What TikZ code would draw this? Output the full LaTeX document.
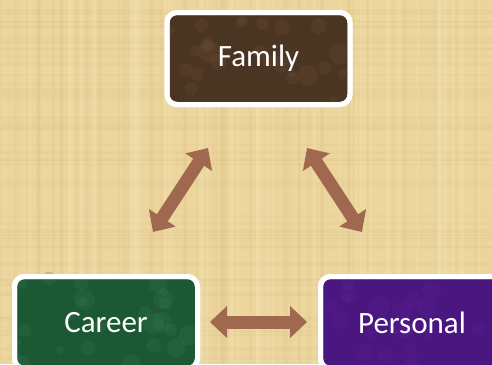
\documentclass[tikz,border=0pt]{standalone}
\usepackage{fontspec}
\setmainfont{Carlito}
\usetikzlibrary{arrows.meta}
\definecolor{papyrus}{RGB}{236,214,158}
\definecolor{papyrusdark}{RGB}{214,186,120}
\definecolor{papyruslight}{RGB}{246,230,185}
\definecolor{arrowbrown}{RGB}{160,104,78}
\definecolor{famfill}{RGB}{74,52,34}
\definecolor{famlight}{RGB}{110,80,55}
\definecolor{carfill}{RGB}{28,88,52}
\definecolor{carlight}{RGB}{55,120,80}
\definecolor{perfill}{RGB}{74,22,128}
\definecolor{perlight}{RGB}{95,40,155}
\tikzset{
  topicbox/.style={draw=white, line width=5pt, rounded corners=10pt,
    minimum width=183pt, minimum height=92pt, inner sep=0pt,
    text=white, font=\fontsize{31}{34}\selectfont},
  biarrow/.style={draw=arrowbrown, line width=13pt,
    {Triangle[length=17pt,width=31pt]}-{Triangle[length=17pt,width=31pt]}}
}
\begin{document}
\begin{tikzpicture}[x=1pt,y=-1pt]
\useasboundingbox (0,0) rectangle (492,364);
\fill[papyrus] (0,0) rectangle (492,364);
% papyrus texture
\pgfmathsetseed{7}
\begin{scope}
\clip (0,0) rectangle (492,364);
\foreach \i in {1,...,60}{
  \pgfmathsetmacro{\yy}{rnd*364}
  \pgfmathsetmacro{\ww}{1+rnd*3}
  \draw[papyrusdark, opacity=0.13, line width=\ww pt] (0,\yy) -- (492,\yy);
}
\foreach \i in {1,...,70}{
  \pgfmathsetmacro{\xx}{rnd*492}
  \pgfmathsetmacro{\ww}{1+rnd*3}
  \draw[papyrusdark, opacity=0.12, line width=\ww pt] (\xx,0) -- (\xx,364);
}
\foreach \i in {1,...,40}{
  \pgfmathsetmacro{\xx}{rnd*492}
  \pgfmathsetmacro{\ww}{1+rnd*4}
  \draw[papyruslight, opacity=0.25, line width=\ww pt] (\xx,0) -- (\xx,364);
}
\end{scope}
% boxes
\node[topicbox, fill=famfill] (family) at (258.5,58.5) {};
\begin{scope}
\clip[rounded corners=8pt] ([shift={(3pt,-3pt)}]family.south west) rectangle ([shift={(-3pt,3pt)}]family.north east);
\foreach \i in {1,...,25}{
  \fill[famlight, opacity=0.25] (168+rnd*180, 14+rnd*90) circle ({3+rnd*8});
}
\end{scope}
\node[topicbox, fill=none] (familyb) at (258.5,58.5) {Family};
\node[topicbox, fill=carfill] (career) at (106,322.5) {};
\begin{scope}
\clip[rounded corners=8pt] ([shift={(3pt,-3pt)}]career.south west) rectangle ([shift={(-3pt,3pt)}]career.north east);
\foreach \i in {1,...,25}{
  \fill[carlight, opacity=0.25] (16+rnd*180, 278+rnd*90) circle ({3+rnd*8});
}
\end{scope}
\node[topicbox, fill=none] (careerb) at (106,322.5) {Career};
\node[topicbox, fill=perfill] (personal) at (412,322.5) {};
\begin{scope}
\clip[rounded corners=8pt] ([shift={(3pt,-3pt)}]personal.south west) rectangle ([shift={(-3pt,3pt)}]personal.north east);
\foreach \i in {1,...,20}{
  \fill[perlight, opacity=0.2] (322+rnd*180, 278+rnd*90) circle ({3+rnd*8});
}
\end{scope}
\node[topicbox, fill=none] (personalb) at (412,322.5) {Personal};
% arrow ends
\coordinate (fl) at (208,148);
\coordinate (cl) at (153,232);
\coordinate (fr) at (307,148);
\coordinate (pr) at (362,232);
\coordinate (ch) at (210,322);
\coordinate (ph) at (307,322);
\draw[biarrow] (cl) -- (fl);
\draw[biarrow] (fr) -- (pr);
\draw[biarrow] (ch) -- (ph);
\end{tikzpicture}
\end{document}
